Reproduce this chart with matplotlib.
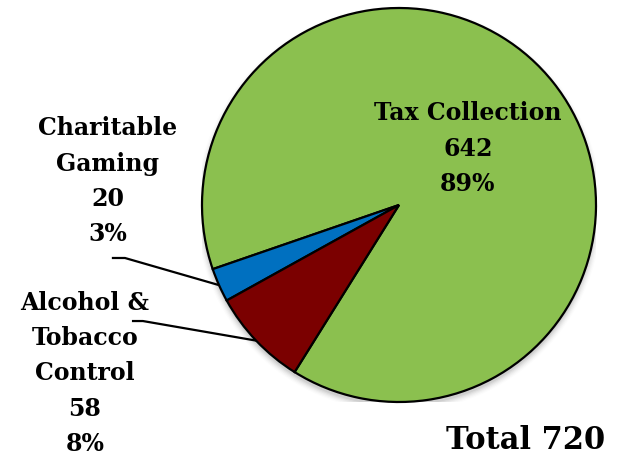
import numpy as np
import matplotlib.pyplot as plt
from matplotlib.patches import Circle

labels = ["Tax Collection", "Charitable\nGaming", "Alcohol &\nTobacco\nControl"]
values = [642, 20, 58]
colors = ["#8BC04F", "#0070C0", "#7B0000"]
total = sum(values)

plt.rcParams['font.family'] = ['DejaVu Serif']

fig = plt.figure(figsize=(6.21, 4.55), dpi=100)
# square axes holding the pie, radius 197 px
ax = fig.add_axes([(399 - 197) / 621, (455 - 205 - 197) / 455, 394 / 621, 394 / 455])

# soft shadow under the pie
for i, a in enumerate(np.linspace(0.05, 0.01, 6)):
    ax.add_patch(Circle((0.0, -0.02), 1.0 + 0.006 * i, color="black", alpha=a, lw=0, zorder=0))

wedges, _ = ax.pie(values, colors=colors, startangle=238, counterclock=True, radius=1.0,
                   wedgeprops=dict(edgecolor="black", linewidth=1.6))
for w in wedges:
    w.set_zorder(2)
ax.set_xlim(-1, 1)
ax.set_ylim(-1, 1)
ax.set_aspect("equal")
ax.axis("off")

pct = [round(v / total * 100) for v in values]
fs = 17
ls = 1.6

# Tax Collection label inside the green slice
ax.text(0.35, 0.285, "%s\n%d\n%d%%" % (labels[0], values[0], pct[0]), ha="center", va="center",
        fontsize=fs, fontweight="bold", linespacing=ls, clip_on=False)

# outside labels with leader lines
outside = [
    (1, (-1.48, 0.12), [(-1.452, -0.269), (-1.391, -0.269)]),
    (2, (-1.594, -0.855), [(-1.35, -0.589), (-1.3, -0.589)]),
]
for idx, (tx, ty), pts in outside:
    w = wedges[idx]
    mid = np.deg2rad((w.theta1 + w.theta2) / 2)
    end = (np.cos(mid), np.sin(mid))
    xs = [p[0] for p in pts] + [end[0]]
    ys = [p[1] for p in pts] + [end[1]]
    ax.plot(xs, ys, color="black", lw=1.6, clip_on=False, zorder=1)
    ax.text(tx, ty, "%s\n%d\n%d%%" % (labels[idx], values[idx], pct[idx]), ha="center", va="center",
            fontsize=fs, fontweight="bold", linespacing=ls, clip_on=False)

ax.text(0.64, -1.193, "Total %d" % total, ha="center", va="center", fontsize=22,
        fontweight="bold", clip_on=False)

fig.savefig("out.png", dpi=100)
